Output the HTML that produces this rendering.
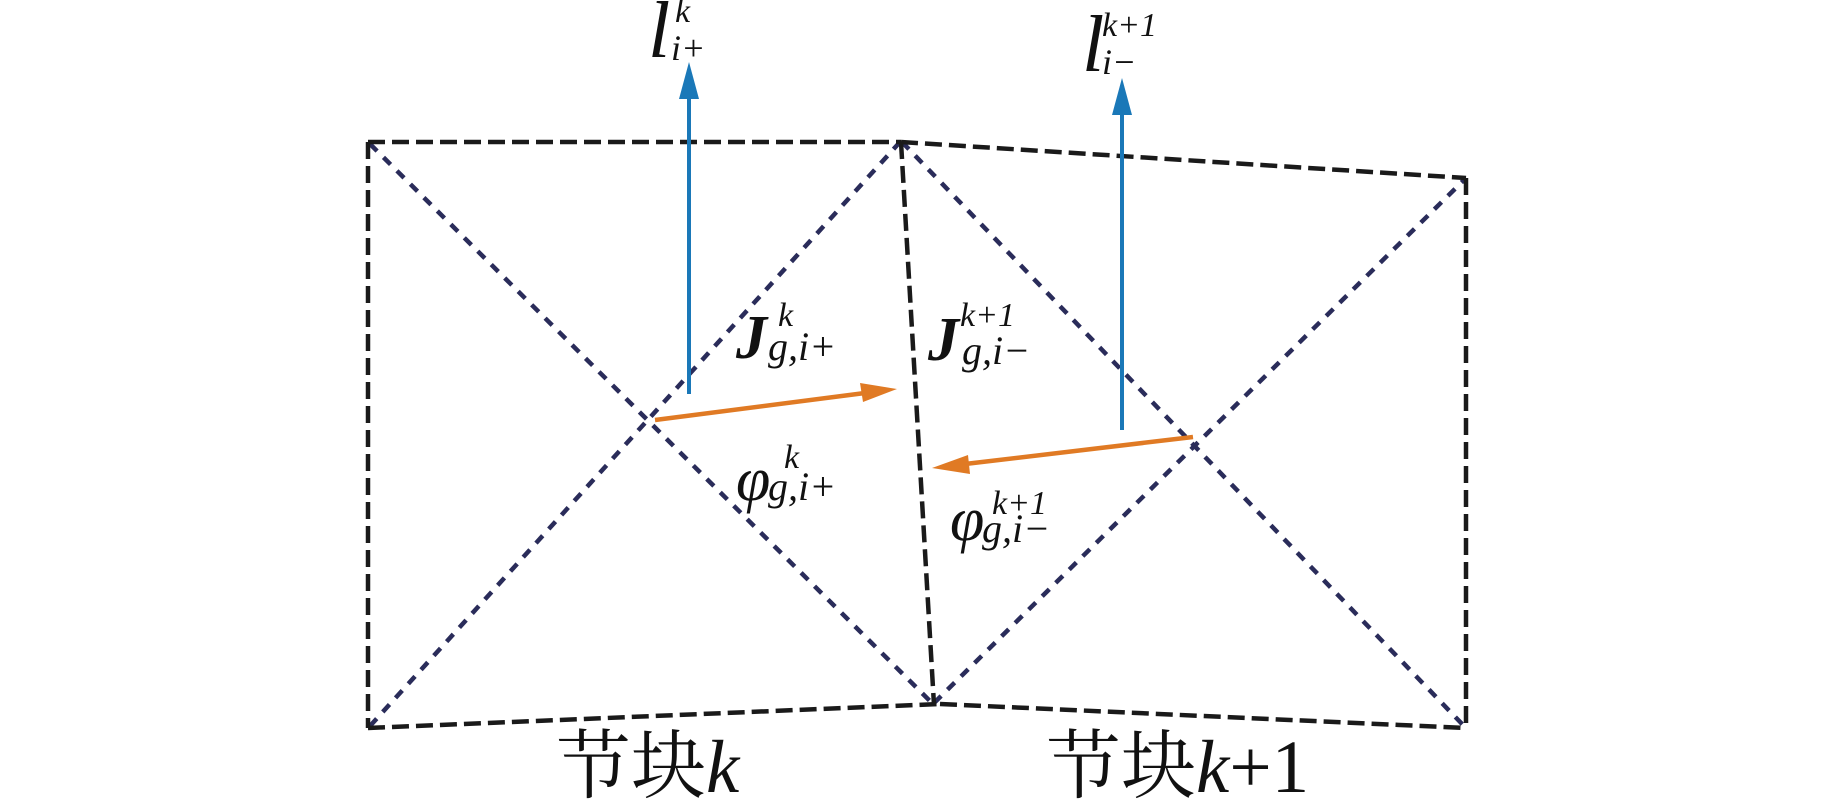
<!DOCTYPE html>
<html><head><meta charset="utf-8"><style>
html,body{margin:0;padding:0;background:#fff;}
svg{display:block;}
.m{font-family:"Liberation Serif","Times New Roman",serif;font-style:italic;fill:#111;}
</style></head><body>
<svg width="1843" height="799" viewBox="0 0 1843 799" xmlns="http://www.w3.org/2000/svg">
<g stroke="#2a2c5a" stroke-width="4.5" stroke-dasharray="10 9" fill="none">
<line x1="370" y1="144" x2="932" y2="703"/>
<line x1="370" y1="726" x2="900" y2="142"/>
<line x1="902" y1="142" x2="1464" y2="726"/>
<line x1="934" y1="703" x2="1464" y2="180"/>
</g>
<g stroke="#1a1a1a" stroke-width="4.5" stroke-dasharray="17 7" fill="none">
<line x1="368" y1="142" x2="901" y2="142"/>
<line x1="901" y1="142" x2="1466" y2="178"/>
<line x1="368" y1="142" x2="368" y2="728"/>
<line x1="1466" y1="178" x2="1466" y2="728"/>
<line x1="901" y1="142" x2="934" y2="705"/>
<line x1="368" y1="728" x2="940" y2="704"/>
<line x1="940" y1="704" x2="1466" y2="728"/>
</g>
<g fill="#1a78b8" stroke="#1a78b8">
<line x1="689" y1="394" x2="689" y2="95" stroke-width="4"/>
<polygon points="689,62 679,99 699,99" stroke="none"/>
<line x1="1122" y1="430" x2="1122" y2="110" stroke-width="4"/>
<polygon points="1122,78 1112,115 1132,115" stroke="none"/>
</g>
<g fill="#e07a24" stroke="#e07a24">
<line x1="655" y1="420" x2="865" y2="393" stroke-width="4.5"/>
<polygon points="897,389 860,383 863,402" stroke="none"/>
<line x1="1193" y1="437" x2="965" y2="464" stroke-width="4.5"/>
<polygon points="932,468 968,455 970,474" stroke="none"/>
</g>
<text class="m" x="648" y="57" font-size="80">l</text>
<text class="m" x="675" y="22" font-size="34">k</text>
<text class="m" x="671" y="60" font-size="36">i+</text>
<text class="m" x="1082" y="71" font-size="80">l</text>
<text class="m" x="1102" y="36" font-size="34">k+1</text>
<text class="m" x="1102" y="74" font-size="36">i−</text>
<text class="m" x="736" y="358" font-size="62" font-weight="bold">J</text>
<text class="m" x="778" y="326" font-size="34">k</text>
<text class="m" x="768" y="360" font-size="40">g,i+</text>
<text class="m" x="928" y="360" font-size="62" font-weight="bold">J</text>
<text class="m" x="960" y="326" font-size="34">k+1</text>
<text class="m" x="962" y="364" font-size="40">g,i−</text>
<text class="m" x="736" y="500" font-size="62">φ</text>
<text class="m" x="784" y="468" font-size="34">k</text>
<text class="m" x="768" y="500" font-size="40">g,i+</text>
<text class="m" x="950" y="540" font-size="62">φ</text>
<text class="m" x="992" y="514" font-size="34">k+1</text>
<text class="m" x="982" y="542" font-size="40">g,i−</text>
<text x="556" y="792" font-size="75" font-family="'Liberation Serif','Noto Serif CJK SC',serif" fill="#111"><tspan font-family="'Noto Serif CJK SC',serif">节块</tspan><tspan font-style="italic">k</tspan></text>
<text x="1046" y="792" font-size="75" font-family="'Liberation Serif','Noto Serif CJK SC',serif" fill="#111"><tspan font-family="'Noto Serif CJK SC',serif">节块</tspan><tspan font-style="italic">k</tspan>+1</text>
</svg>
</body></html>
